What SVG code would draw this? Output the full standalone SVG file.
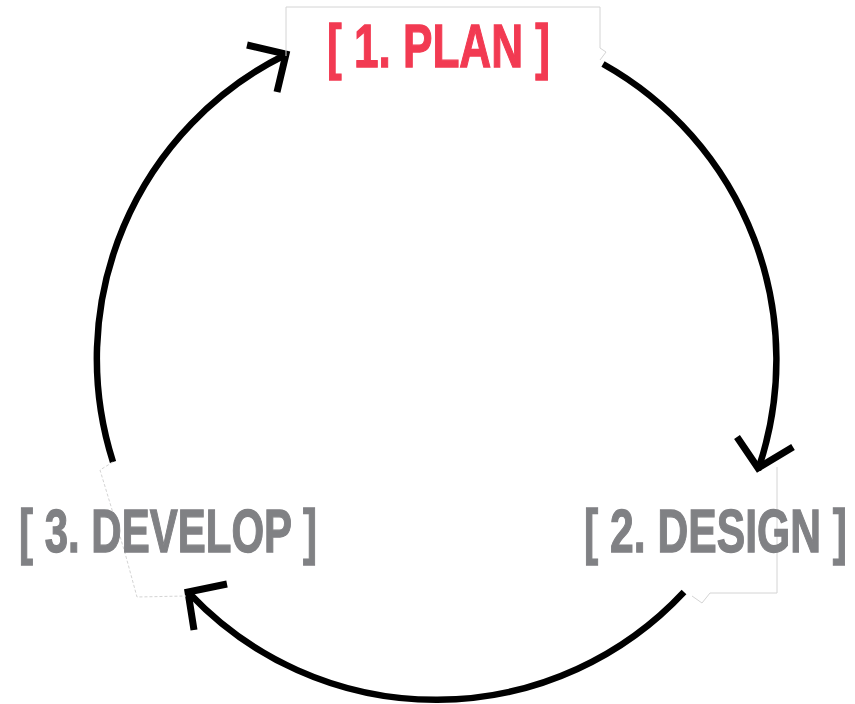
<svg xmlns="http://www.w3.org/2000/svg" width="855" height="704" viewBox="0 0 855 704">
<style>
.arc{fill:none;stroke:#000;stroke-width:6.5;stroke-linecap:butt}
.head{fill:none;stroke:#000;stroke-width:7;stroke-linejoin:miter;stroke-linecap:butt}
.box{fill:none;stroke:#d4d4d4;stroke-width:1}
.lbl{font-family:"Liberation Sans",Arial,sans-serif;font-weight:bold;font-size:62px;stroke-width:1.3}
</style>
<rect width="855" height="704" fill="#fff"/>
<g id="connectors">
<path class="arc" d="M603,64 A339,339 0 0 1 758,470"/>
<polyline class="head" points="737,437 758,468 793,447"/>
<path class="arc" d="M684,592 A339,339 0 0 1 190,594"/>
<polyline class="head" points="227,584 188,592 194,630"/>
<path class="arc" d="M113,462 A339,339 0 0 1 285,55"/>
<polyline class="head" points="247,45 286,54 277,92"/>
</g>
<g id="plan">
<polyline class="box" points="286,56 286,7 600,7 600,48 606,52 600,60"/>
<text class="lbl" x="327" y="67" fill="#f23a52" stroke="#f23a52" textLength="223" lengthAdjust="spacingAndGlyphs">[ 1. PLAN ]</text>
</g>
<g id="design">
<polyline class="box" points="777,467 777,593 710,593 702,603 692,596"/>
<text class="lbl" x="584" y="552" fill="#808184" stroke="#808184" textLength="263" lengthAdjust="spacingAndGlyphs">[ 2. DESIGN ]</text>
</g>
<g id="develop">
<polyline class="box" points="113,462 100,470 110,503 125,553 137,597 186,596" stroke-dasharray="3,2"/>
<text class="lbl" x="19" y="552" fill="#808184" stroke="#808184" textLength="298" lengthAdjust="spacingAndGlyphs">[ 3. DEVELOP ]</text>
</g>
</svg>
